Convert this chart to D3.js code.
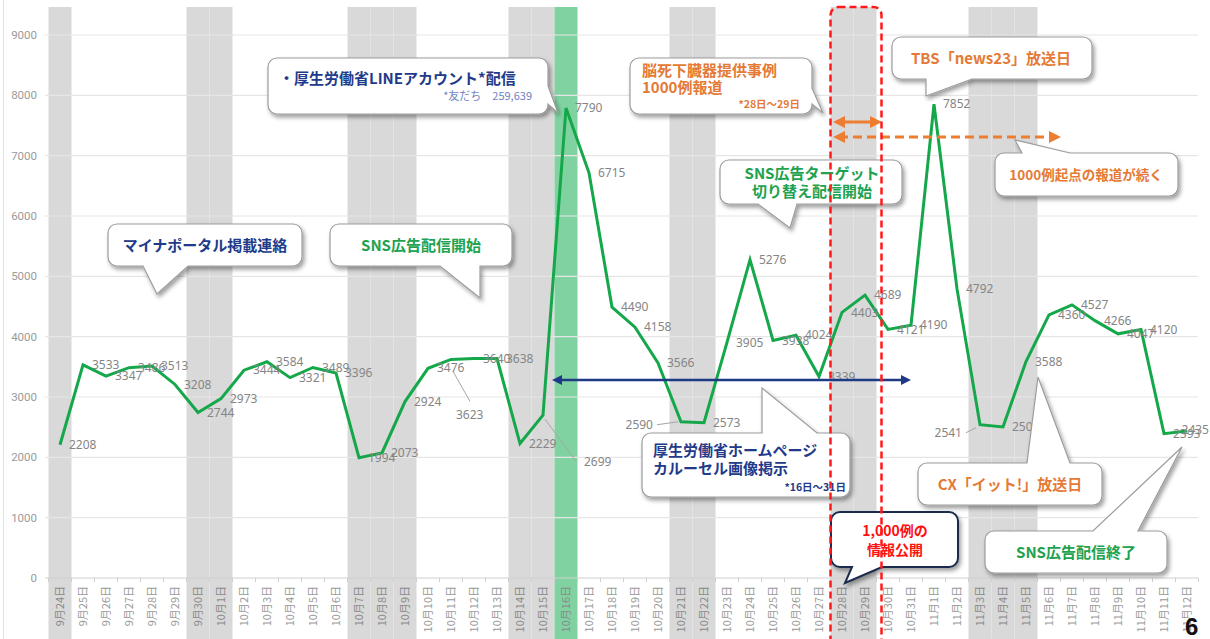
<!DOCTYPE html>
<html><head><meta charset="utf-8">
<script src="https://cdn.jsdelivr.net/npm/d3@7"></script>
<style>
body{margin:0;background:#fff}
svg{display:block;font-family:"Noto Sans CJK JP","Noto Sans",sans-serif}
</style>
</head><body>
<svg id="c" width="1210" height="639"></svg>
<script>
const dates = ['9月24日','9月25日','9月26日','9月27日','9月28日','9月29日','9月30日',
 '10月1日','10月2日','10月3日','10月4日','10月5日','10月6日','10月7日','10月8日','10月9日','10月10日',
 '10月11日','10月12日','10月13日','10月14日','10月15日','10月16日','10月17日','10月18日','10月19日','10月20日',
 '10月21日','10月22日','10月23日','10月24日','10月25日','10月26日','10月27日','10月28日','10月29日','10月30日','10月31日',
 '11月1日','11月2日','11月3日','11月4日','11月5日','11月6日','11月7日','11月8日','11月9日','11月10日','11月11日','11月12日'];
const values = [2208,3533,3347,3486,3513,3208,2744,
 2973,3444,3584,3321,3489,3396,1994,2073,2924,3476,
 3623,3640,3638,2229,2699,7790,6715,4490,4158,3566,
 2590,2573,3905,5276,3938,4024,3339,4403,4689,4121,4190,
 7852,4792,2541,2503,3588,4360,4527,4266,4047,4120,2393,2435];
const holidayDates = ['9月24日','9月30日','10月1日','10月7日','10月8日','10月9日','10月14日','10月15日',
 '10月21日','10月22日','10月28日','10月29日','11月3日','11月4日','11月5日'];
const highlightDates = ['10月16日'];
const yTicks = [0,1000,2000,3000,4000,5000,6000,7000,8000,9000];

// label placement tweaks (offsets relative to the point)
const labelTweaks = {
  '10月11日': {dx:5, dy:55, anchor:'start', leader:[2,12,19,42]},
  '10月15日': {dx:41, dy:47, anchor:'start', leader:[2,4,33,46]},
  '10月21日': {dx:-28, dy:3, anchor:'end', leader:[-24,3,-3,0]},
  '11月3日':  {dx:-18, dy:8, anchor:'end', leader:[-14,8,-4,3]},
  '11月12日': {dx:22, dy:-1, anchor:'end'}
};

const svg = d3.select('#c');
const W = 1210, H = 639;
const x = d3.scaleBand().domain(dates).range([48.5, 1198.5]).padding(0);
const y = d3.scaleLinear().domain([0, 9000]).range([578, 35]);
const cx = d => x(d) + x.bandwidth()/2;

const defs = svg.append('defs');
const f = defs.append('filter').attr('id','sh').attr('x','-10%').attr('y','-10%').attr('width','130%').attr('height','140%');
f.append('feDropShadow').attr('dx',2).attr('dy',3).attr('stdDeviation',2.2).attr('flood-color','#000').attr('flood-opacity',0.38);
function marker(id, color, orient){
  defs.append('marker').attr('id',id).attr('viewBox','0 0 10 10').attr('refX',5).attr('refY',5)
    .attr('markerWidth',4).attr('markerHeight',4).attr('orient',orient)
    .append('path').attr('d','M0,0 L10,5 L0,10 Z').attr('fill',color);
}
marker('navyEnd','#1f3a84','auto'); marker('navyStart','#1f3a84','auto-start-reverse');
marker('orEnd','#ed7d31','auto'); marker('orStart','#ed7d31','auto-start-reverse');

// left faint border
svg.append('line').attr('x1',3.5).attr('x2',3.5).attr('y1',0).attr('y2',H).attr('stroke','#e2e2e2');

// bands
svg.append('g').selectAll('rect').data(holidayDates).join('rect')
  .attr('x', d => x(d)).attr('width', x.bandwidth()).attr('y', 7).attr('height', H-7).attr('fill','#d9d9d9');
svg.append('g').selectAll('rect').data(highlightDates).join('rect')
  .attr('x', d => x(d)).attr('width', x.bandwidth()).attr('y', 7).attr('height', H-7).attr('fill','#80d3a1');

// grid
svg.append('g').selectAll('line').data(yTicks).join('line')
  .attr('x1', 45).attr('x2', 1198).attr('y1', d => y(d)).attr('y2', d => y(d))
  .attr('stroke', d => d===0 ? '#d0d0d0' : '#e6e6e6').attr('stroke-width',1.2);
svg.append('g').selectAll('text').data(yTicks).join('text')
  .attr('x', 37).attr('y', d => y(d)).attr('dy','0.35em').attr('text-anchor','end')
  .attr('font-size',11.5).attr('fill','#9a9a9a').attr('font-family','Roboto,"Noto Sans",sans-serif').text(d => d);

// x ticks
svg.append('g').selectAll('line').data(dates.concat(['_end'])).join('line')
  .attr('x1', (d,i) => 48.5 + i*x.step()).attr('x2', (d,i) => 48.5 + i*x.step())
  .attr('y1', 578).attr('y2', 582).attr('stroke','#cfcfcf');
svg.append('g').selectAll('text').data(dates).join('text')
  .attr('transform', d => `translate(${cx(d)+4},586) rotate(-90)`)
  .attr('text-anchor','end').attr('font-size',11)
  .attr('fill', d => holidayDates.includes(d)||highlightDates.includes(d) ? '#8a8a8a' : '#9a9a9a')
  .text(d => d);

// line
const pts = dates.map((d,i) => ({d, v: values[i]}));
svg.append('path').datum(pts)
  .attr('d', d3.line().x(p => cx(p.d)).y(p => y(p.v)))
  .attr('fill','none').attr('stroke','#14a84b').attr('stroke-width',3).attr('stroke-linejoin','miter');

// data labels
const lg = svg.append('g').attr('font-size',12).attr('fill','#858585').attr('font-family','"Noto Sans",sans-serif');
pts.forEach(p => {
  const t = labelTweaks[p.d] || {dx:9, dy:0, anchor:'start'};
  const px = cx(p.d), py = y(p.v);
  if (t.leader) {
    lg.append('line').attr('x1',px+t.leader[0]).attr('y1',py+t.leader[1]).attr('x2',px+t.leader[2]).attr('y2',py+t.leader[3])
      .attr('stroke','#a5a5a5').attr('stroke-width',1);
  }
  lg.append('text').attr('x',px+t.dx).attr('y',py+t.dy).attr('dy','0.35em').attr('text-anchor',t.anchor).text(p.v);
});

// arrows
svg.append('line').attr('x1',557).attr('x2',906).attr('y1',380).attr('y2',380)
  .attr('stroke','#1f3a84').attr('stroke-width',2.5)
  .attr('marker-start','url(#navyStart)').attr('marker-end','url(#navyEnd)');
svg.append('line').attr('x1',839).attr('x2',876).attr('y1',122).attr('y2',122)
  .attr('stroke','#ed7d31').attr('stroke-width',3)
  .attr('marker-start','url(#orStart)').attr('marker-end','url(#orEnd)');
svg.append('line').attr('x1',839).attr('x2',1055).attr('y1',137).attr('y2',137)
  .attr('stroke','#ed7d31').attr('stroke-width',3).attr('stroke-dasharray','9,5')
  .attr('marker-start','url(#orStart)').attr('marker-end','url(#orEnd)');

// callouts
function bubblePath(bx,by,w,h,r,t){
  let p = `M${bx+r},${by}`;
  if (t.side==='top') p += `L${t.a},${by}L${t.tx},${t.ty}L${t.b},${by}`;
  p += `L${bx+w-r},${by}A${r},${r} 0 0 1 ${bx+w},${by+r}`;
  if (t.side==='right') p += `L${bx+w},${t.a}L${t.tx},${t.ty}L${bx+w},${t.b}`;
  p += `L${bx+w},${by+h-r}A${r},${r} 0 0 1 ${bx+w-r},${by+h}`;
  if (t.side==='bottom') p += `L${t.b},${by+h}L${t.tx},${t.ty}L${t.a},${by+h}`;
  p += `L${bx+r},${by+h}A${r},${r} 0 0 1 ${bx},${by+h-r}`;
  p += `L${bx},${by+r}A${r},${r} 0 0 1 ${bx+r},${by}Z`;
  return p;
}
const NAVY='#223a8a', GREEN='#20a24e', ORANGE='#e47a35', RED='#ff1010';
// each text block: lines share anchor/size; lh = line step
const callouts = [
  {box:[268,58,280,56], tail:{side:'right',a:86,b:104,tx:558,ty:113},
   texts:[{lines:['・厚生労働省LINEアカウント*配信'],x:279,y:84,c:NAVY,s:15,w:700},
          {lines:['*友だち　259,639'],x:532,y:100,c:'#6f82c4',s:11,w:400,a:'end'}]},
  {box:[108,224,194,42], tail:{side:'bottom',a:143,b:188,tx:157,ty:294},
   texts:[{lines:['マイナポータル掲載連絡'],x:205,y:251,c:NAVY,s:15,w:700,a:'middle'}]},
  {box:[330,224,182,42], tail:{side:'bottom',a:440,b:480,tx:480,ty:298},
   texts:[{lines:['SNS広告配信開始'],x:421,y:251,c:GREEN,s:15,w:700,a:'middle'}]},
  {box:[630,58,182,56], tail:{side:'right',a:88,b:104,tx:823,ty:113},
   texts:[{lines:['脳死下臓器提供事例','1000例報道'],x:642,y:76,lh:17,c:ORANGE,s:15,w:700},
          {lines:['*28日～29日'],x:800,y:108,c:ORANGE,s:10.5,w:700,a:'end'}]},
  {box:[720,160,182,44], tail:{side:'bottom',a:758,b:797,tx:790,ty:228},
   texts:[{lines:['SNS広告ターゲット','切り替え配信開始'],x:812,y:179,lh:18,c:GREEN,s:15,w:700,a:'middle'}]},
  {box:[892,37,200,42], tail:{side:'bottom',a:926,b:972,tx:926,ty:96},
   texts:[{lines:['TBS「news23」放送日'],x:991,y:64,c:ORANGE,s:15,w:700,a:'middle'}]},
  {box:[995,153,183,43], tail:{side:'top',a:1022,b:1070,tx:1015,ty:140},
   texts:[{lines:['1000例起点の報道が続く'],x:1086,y:180,c:ORANGE,s:13.5,w:700,a:'middle'}]},
  {box:[642,433,208,64], tail:{side:'top',a:762,b:817,tx:762,ty:388},
   texts:[{lines:['厚生労働省ホームページ','カルーセル画像掲示'],x:653,y:456,lh:18,c:NAVY,s:15,w:700},
          {lines:['*16日～31日'],x:846,y:491,c:NAVY,s:10.5,w:700,a:'end'}]},
  {box:[918,463,184,42], tail:{side:'top',a:1027,b:1070,tx:1038,ty:377},
   texts:[{lines:['CX「イット!」放送日'],x:1010,y:490,c:ORANGE,s:15,w:700,a:'middle'}]},
  {box:[985,531,182,42], tail:{side:'top',a:1093,b:1138,tx:1182,ty:447},
   texts:[{lines:['SNS広告配信終了'],x:1076,y:558,c:GREEN,s:15,w:700,a:'middle'}]},
  {box:[831,512,127,55], tail:{side:'bottom',a:852,b:882,tx:845,ty:583}, stroke:'#1c2a4d', sw:2,
   texts:[{lines:['1,000例の','情報公開'],x:895,y:536,lh:19,c:RED,s:14,w:700,a:'middle'}]}
];
const cg = svg.append('g');
callouts.forEach(c => {
  const [bx,by,w,h] = c.box;
  cg.append('path').attr('d', bubblePath(bx,by,w,h,9,c.tail))
    .attr('fill','#fff').attr('stroke', c.stroke || '#9c9c9c').attr('stroke-width', c.sw || 1.2)
    .attr('filter','url(#sh)');
  c.texts.forEach(l => {
    const t = cg.append('text').attr('x',l.x).attr('y',l.y).attr('fill',l.c).attr('font-size',l.s)
      .attr('font-weight',l.w).attr('text-anchor',l.a||'start');
    l.lines.forEach((s,i) => t.append('tspan').attr('x',l.x).attr('dy', i===0 ? 0 : l.lh).text(s));
  });
});

// red dashed frame
svg.append('rect').attr('x',830.5).attr('y',7).attr('width',51).attr('height',650).attr('rx',8)
  .attr('fill','none').attr('stroke','#ff1a1a').attr('stroke-width',2.5).attr('stroke-dasharray','7,4');

// page number
svg.append('text').attr('x',1185).attr('y',635).attr('font-size',24).attr('font-weight',700)
  .attr('font-family','"Liberation Sans",Arial,sans-serif').attr('fill','#111').text('6');
</script>
</body></html>
